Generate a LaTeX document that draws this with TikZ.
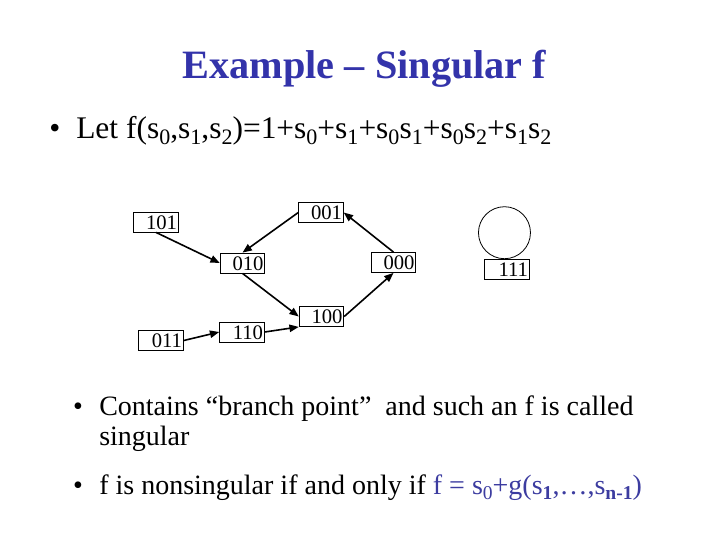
\documentclass[tikz,border=0pt]{standalone}
\usepackage{fontspec}
\setmainfont{Liberation Serif}
\usetikzlibrary{arrows.meta,positioning}
\definecolor{titleblue}{RGB}{51,51,170}
\definecolor{textblue}{RGB}{60,60,160}
\newcommand{\lo}[1]{\raisebox{-0.2em}{\scalebox{0.7}{#1}}}

\begin{document}
\begin{tikzpicture}[x=0.75pt,y=-0.75pt,
  state/.style={draw,line width=0.6pt,text width=31.5pt,align=right,
    inner xsep=1pt,inner ysep=2pt,text height=11pt,text depth=0pt,
    font=\fontsize{15.5}{17}\selectfont},
  edge/.style={line width=1.2pt,-{Triangle[length=7pt,width=5.5pt]}},
  big/.style={font=\fontsize{23.6}{25}\selectfont},
  body/.style={font=\fontsize{21}{22.5}\selectfont}]
\useasboundingbox (0,0) rectangle (720,540);

% title and first bullet
\node[anchor=base,text=titleblue,font=\fontsize{30.2}{34}\selectfont\bfseries] (title) at (364.5,78) {Example -- Singular f};
\node[big,anchor=base,inner sep=0pt] (dot1) at (55,138) {\textbullet};
\node[big,anchor=base west,inner sep=0pt] (let) at (76,138)
  {Let f(s\lo{0},s\lo{1},s\lo{2})=1+s\lo{0}+s\lo{1}+s\lo{0}s\lo{1}+s\lo{0}s\lo{2}+s\lo{1}s\lo{2}};

% states
\node[state] (n101) at (156,222) {101};
\node[state] (n001) at (321,212.5) {001};
\node[state] (n010) at (242.5,263) {010};
\node[state] (n000) at (393.5,262.5) {000};
\node[state] (n100) at (321.5,316.5) {100};
\node[state] (n011) at (161,340.5) {011};
\node[state] (n110) at (242,332) {110};
\node[state] (n111) at (507,269.5) {111};
\node[draw,circle,line width=0.6pt,minimum size=39pt,inner sep=0pt,above=0pt of n111,xshift=-1.9pt] (loop) {};

% transitions
\draw[edge] (n101.south) -- (n010.west);
\draw[edge] (n001.west) -- (n010.north);
\draw[edge] (n000.north) -- (n001.east);
\draw[edge] (n010.south) -- (n100.west);
\draw[edge] (n100.east) -- (n000.south);
\draw[edge] (n011.east) -- (n110.west);
\draw[edge] (n110.east) -- (n100.south west);

% remarks
\node[body,anchor=base,inner sep=0pt] (dot2) at (78,415) {\textbullet};
\node[body,anchor=base west,inner sep=0pt,align=left] (branch) at (99,445)
  {Contains “branch point”\ \ and such an f is called\\singular};
\node[body,anchor=base,inner sep=0pt] (dot3) at (78,494) {\textbullet};
\node[body,anchor=base west,inner sep=0pt] (nonsing) at (99,494)
  {f is nonsingular if and only if {\color{textblue}f = s\lo{0}+g(s\lo{\textbf{1}},…,s\lo{\textbf{n-1}})}};
\end{tikzpicture}
\end{document}
